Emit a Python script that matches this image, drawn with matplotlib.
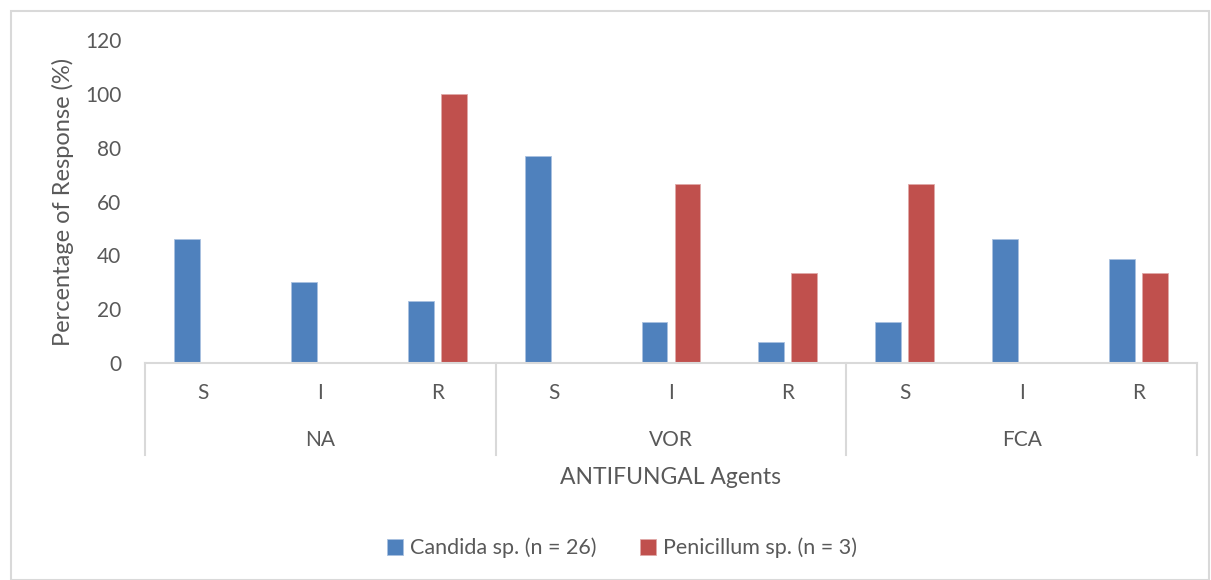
import matplotlib
matplotlib.use("Agg")
import matplotlib.pyplot as plt
from matplotlib.patches import Rectangle
from matplotlib.lines import Line2D
import numpy as np

groups = ["NA", "VOR", "FCA"]
responses = ["S", "I", "R"]
candida = [46.15, 30.0, 23.08, 76.92, 15.38, 7.69, 15.38, 46.15, 38.46]
penicillum = [0, 0, 100, 0, 66.67, 33.33, 66.67, 0, 33.33]
series_names = ["Candida sp. (n = 26)", "Penicillum sp. (n = 3)"]
yticks = [0, 20, 40, 60, 80, 100, 120]

plt.rcParams['font.family'] = ['Lato', 'DejaVu Sans']
TXT = "#595959"
GRID = "#D9D9D9"
BLUE = "#4F81BD"
RED = "#C0504D"

W, H = 1211, 580
fig = plt.figure(figsize=(W/100, H/100), dpi=100)
ax = fig.add_axes([145/W, 1-363/H, (1197-145)/W, (363-40)/H])

n = len(candida)
x = np.arange(n)
bw = 0.222
off = 0.141
ax.bar(x - off, candida, bw, color=BLUE, edgecolor="#A9C1E0", linewidth=0.6, label=series_names[0])
ax.bar(x + off, penicillum, bw, color=RED, edgecolor="#E0A9A8", linewidth=0.6, label=series_names[1])

ax.set_xlim(-0.5, n - 0.5)
ax.set_ylim(0, 120)
ax.set_yticks(yticks)
ax.tick_params(axis='y', length=0, labelsize=15, labelcolor=TXT, pad=17)
ax.set_xticks([])
for s in ["top", "right", "left"]:
    ax.spines[s].set_visible(False)
ax.spines["bottom"].set_color(GRID)
ax.spines["bottom"].set_linewidth(1.5)

trans = ax.get_xaxis_transform()
axh = 363 - 40
def yf(px):
    return (363 - px) / axh

for i in range(n):
    ax.text(i, yf(393), responses[i % 3], transform=trans, ha='center', va='center',
            fontsize=15, color=TXT)
for g, name in enumerate(groups):
    ax.text(3*g + 1, yf(440), name, transform=trans, ha='center', va='center',
            fontsize=15, color=TXT)
for b in [-0.5, 2.5, 5.5, 8.5]:
    ax.add_line(Line2D([b, b], [0, yf(455)], transform=trans, color=GRID, lw=1.5, clip_on=False))

ax.text(4, yf(478), "ANTIFUNGAL Agents", transform=trans, ha='center', va='center',
        fontsize=16.5, color=TXT)
ax.text(-0.5 - 82/116.9, 0.5, "Percentage of Response (%)", transform=trans, rotation=90,
        ha='center', va='center', fontsize=17, color=TXT)

fig.legend(loc='center', bbox_to_anchor=(622/W, 1-548/H), ncol=2, frameon=False,
           fontsize=15.5, labelcolor=TXT, handlelength=0.75, handleheight=0.75,
           handletextpad=0.35, columnspacing=2.0)

fig.patches.append(Rectangle((11/W, 0), (1209-11)/W, 1-11/H, transform=fig.transFigure,
                             fill=False, edgecolor=GRID, lw=1.5))

fig.savefig("out.png", dpi=100)
